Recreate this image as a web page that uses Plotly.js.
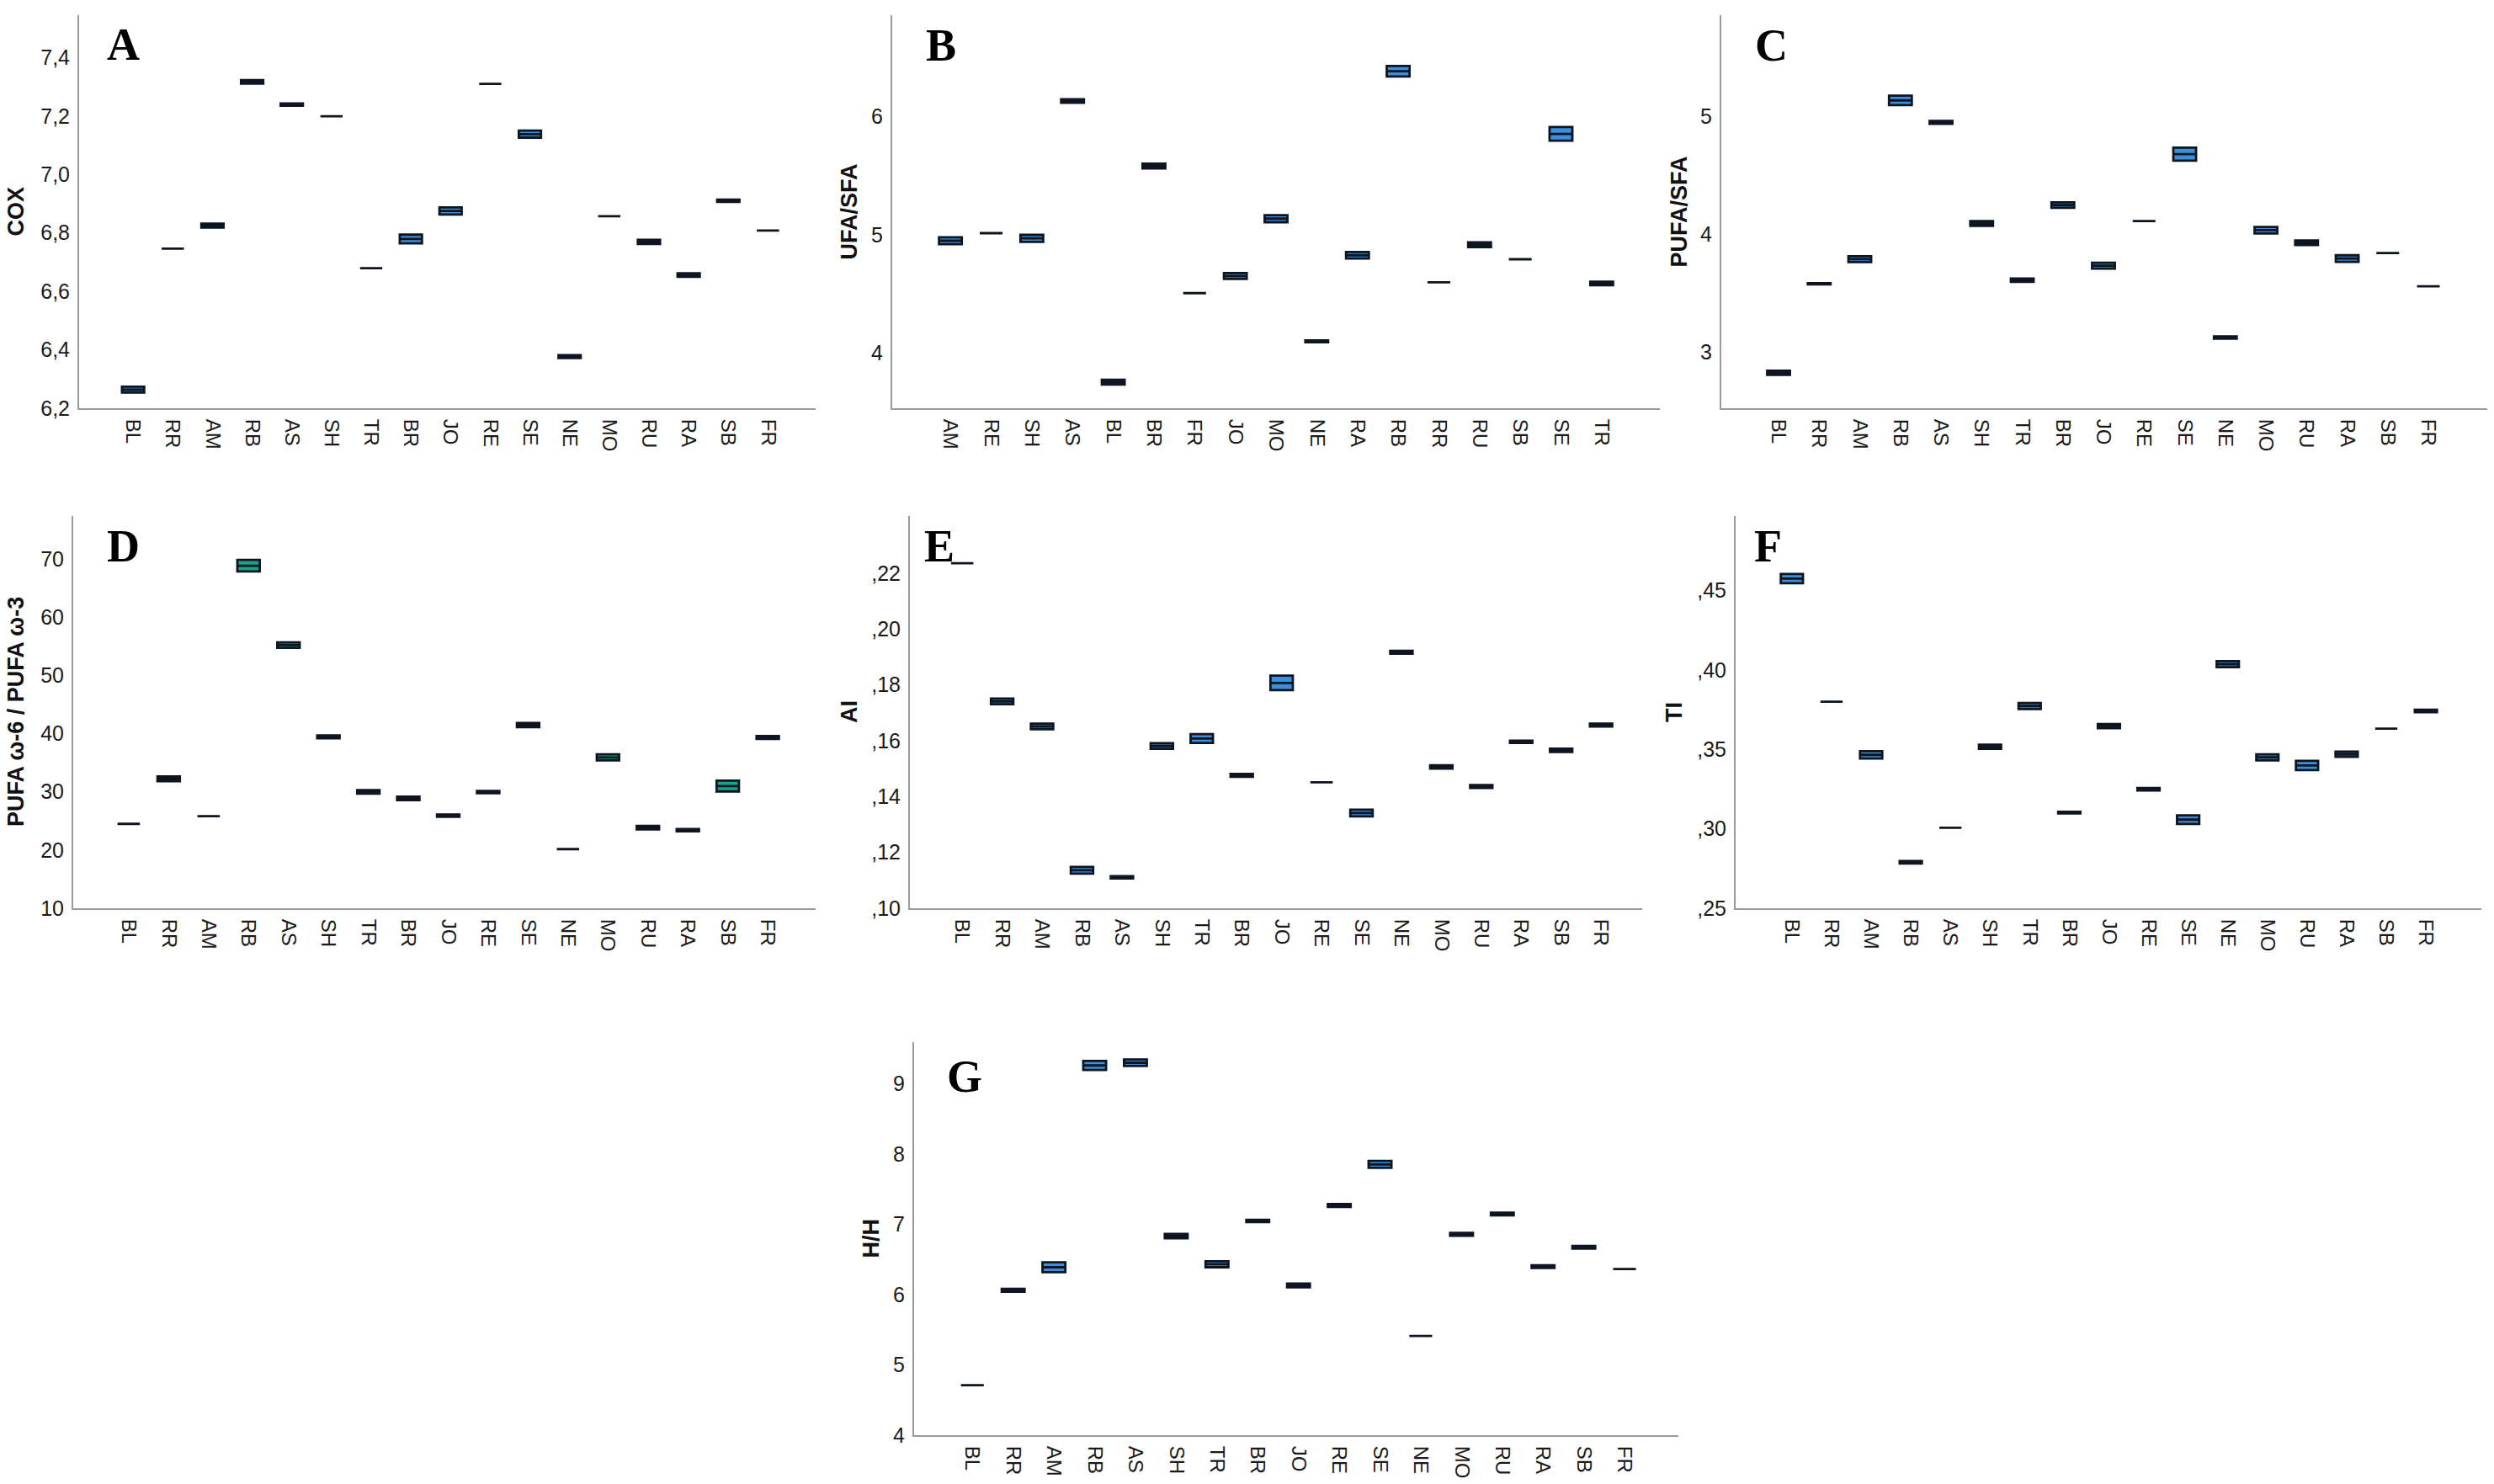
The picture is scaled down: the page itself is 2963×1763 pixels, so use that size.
<!DOCTYPE html>
<html>
<head>
<meta charset="utf-8">
<script src="https://cdn.plot.ly/plotly-3.0.1.min.js"></script>
<style>
  html, body { margin: 0; padding: 0; background: #fff; }
  #chart { width: 2963px; height: 1763px; }
</style>
</head>
<body>
<div id="chart"></div>
<script>
// categories (panel B uses alphabetical order after the first three)
var catsMain = ['BL', 'RR', 'AM', 'RB', 'AS', 'SH', 'TR', 'BR', 'JO', 'RE', 'SE', 'NE', 'MO', 'RU', 'RA', 'SB', 'FR']
var catsB = ['AM', 'RE', 'SH', 'AS', 'BL', 'BR', 'FR', 'JO', 'MO', 'NE', 'RA', 'RB', 'RR', 'RU', 'SB', 'SE', 'TR']

// medians and half box heights
var medA = [6.264, 6.746, 6.825, 7.317, 7.239, 7.199, 6.679, 6.779, 6.875, 7.310, 7.138, 6.377, 6.857, 6.769, 6.656, 6.910, 6.808]
var halfA = [0.010, 0, 0.007, 0.006, 0.004, 0, 0, 0.015, 0.012, 0, 0.012, 0.005, 0, 0.007, 0.006, 0.004, 0]

var medB = [4.949, 5.013, 4.969, 6.133, 3.751, 5.582, 4.505, 4.651, 5.136, 4.097, 4.826, 6.385, 4.597, 4.915, 4.792, 5.854, 4.587]
var halfB = [0.03, 0, 0.03, 0.015, 0.02, 0.02, 0, 0.025, 0.03, 0.008, 0.028, 0.044, 0, 0.02, 0, 0.058, 0.015]

var medC = [2.821, 3.577, 3.787, 5.136, 4.949, 4.090, 3.608, 4.246, 3.731, 4.110, 4.679, 3.121, 4.033, 3.926, 3.792, 3.838, 3.556]
var halfC = [0.018, 0.005, 0.025, 0.04, 0.012, 0.02, 0.015, 0.023, 0.025, 0, 0.056, 0.01, 0.028, 0.02, 0.028, 0, 0]

var medD = [24.5, 32.24, 25.81, 68.86, 55.22, 39.45, 30.01, 28.87, 25.91, 29.96, 41.47, 20.16, 35.92, 23.84, 23.42, 31.0, 39.35]
var halfD = [0, 0.4, 0, 1.0, 0.47, 0.25, 0.3, 0.3, 0.2, 0.2, 0.36, 0, 0.52, 0.3, 0.2, 0.93, 0.25]

var medE = [0.2236, 0.1741, 0.1651, 0.1136, 0.1111, 0.1581, 0.1608, 0.1476, 0.1807, 0.1451, 0.1341, 0.1917, 0.1506, 0.1436, 0.1596, 0.1566, 0.1656]
var halfE = [0, 0.001, 0.001, 0.0012, 0.0004, 0.001, 0.0016, 0.0005, 0.0026, 0, 0.0012, 0.0005, 0.0006, 0.0005, 0.0004, 0.0006, 0.0005]

var medF = [0.4576, 0.3801, 0.3466, 0.2790, 0.3007, 0.3517, 0.3774, 0.3102, 0.3647, 0.3249, 0.3058, 0.4037, 0.3450, 0.3399, 0.3470, 0.3631, 0.3742]
var halfF = [0.0029, 0, 0.0023, 0.0008, 0, 0.0013, 0.0019, 0.0005, 0.0013, 0.0008, 0.0027, 0.0019, 0.0019, 0.0029, 0.0017, 0, 0.0008]

var medG = [4.710, 6.061, 6.388, 9.258, 9.297, 6.831, 6.431, 7.046, 6.130, 7.266, 7.851, 5.411, 6.857, 7.145, 6.397, 6.672, 6.362]
var halfG = [0, 0.02, 0.07, 0.065, 0.047, 0.03, 0.043, 0.017, 0.026, 0.02, 0.05, 0, 0.02, 0.02, 0.02, 0.02, 0]

// tick labels
var ticksA = [6.2, 6.4, 6.6, 6.8, 7.0, 7.2, 7.4]
var labelsA = ['6,2', '6,4', '6,6', '6,8', '7,0', '7,2', '7,4']
var ticksB = [4, 5, 6]
var ticksC = [3, 4, 5]
var ticksD = [10, 20, 30, 40, 50, 60, 70]
var ticksE = [0.10, 0.12, 0.14, 0.16, 0.18, 0.20, 0.22]
var labelsE = [',10', ',12', ',14', ',16', ',18', ',20', ',22']
var ticksF = [0.25, 0.30, 0.35, 0.40, 0.45]
var labelsF = [',25', ',30', ',35', ',40', ',45']
var ticksG = [4, 5, 6, 7, 8, 9]

var W = 2963, H = 1763
var BLUE = '#3b8fdd'
var TEAL = '#1aa487'

// pixel boxes of each panel: [left, right, top, bottom], x range, y range
var panels = [
    {letter: 'A', title: 'COX', cats: catsMain, med: medA, half: halfA, tv: ticksA, tt: labelsA,
     px: [94, 969, 18, 485], xr: [-1.36, 17.2], yr: [6.2, 7.545], fill: BLUE, titleX: 19, letterXY: [146, 53]},
    {letter: 'B', title: 'UFA/SFA', cats: catsB, med: medB, half: halfB, tv: ticksB, tt: ticksB.map(String),
     px: [1060, 1972, 18, 485], xr: [-1.43, 17.43], yr: [3.53, 6.86], fill: BLUE, titleX: 1009, letterXY: [1118, 54]},
    {letter: 'C', title: 'PUFA/SFA', cats: catsMain, med: medC, half: halfC, tv: ticksC, tt: ticksC.map(String),
     px: [2045, 2955, 18, 485], xr: [-1.41, 17.45], yr: [2.52, 5.86], fill: BLUE, titleX: 1995, letterXY: [2104, 54]},
    {letter: 'D', title: 'PUFA ω-6 / PUFA ω-3', cats: catsMain, med: medD, half: halfD, tv: ticksD, tt: ticksD.map(String),
     px: [87, 969, 613, 1079], xr: [-1.39, 17.2], yr: [10, 77.4], fill: TEAL, titleX: 19, letterXY: [146, 649]},
    {letter: 'E', title: 'AI', cats: catsMain, med: medE, half: halfE, tv: ticksE, tt: labelsE,
     px: [1081, 1951, 613, 1079], xr: [-1.31, 17.03], yr: [0.10, 0.2405], fill: BLUE, titleX: 1009, letterXY: [1116, 649]},
    {letter: 'F', title: 'TI', cats: catsMain, med: medF, half: halfF, tv: ticksF, tt: labelsF,
     px: [2062, 2948, 613, 1079], xr: [-1.42, 17.4], yr: [0.25, 0.497], fill: BLUE, titleX: 1989, letterXY: [2100, 649]},
    {letter: 'G', title: 'H/H', cats: catsMain, med: medG, half: halfG, tv: ticksG, tt: ticksG.map(String),
     px: [1086, 1994, 1238, 1705], xr: [-1.43, 17.32], yr: [4.0, 9.59], fill: BLUE, titleX: 1034, letterXY: [1146, 1279]}
]

var data = []
var layout = {
    width: W,
    height: H,
    margin: {l: 0, r: 0, t: 0, b: 0},
    paper_bgcolor: '#fff',
    plot_bgcolor: '#fff',
    showlegend: false,
    boxgap: 0.2,
    font: {family: 'Liberation Sans, Arial, sans-serif', size: 24, color: '#1a1a1a'},
    annotations: []
}

panels.forEach(function (p, i) {
    var n = i === 0 ? '' : String(i + 1)
    var q1 = p.med.map(function (m, j) { return m - p.half[j] })
    var q3 = p.med.map(function (m, j) { return m + p.half[j] })

    data.push({
        type: 'box',
        x: p.cats,
        q1: q1,
        median: p.med,
        q3: q3,
        lowerfence: q1,
        upperfence: q3,
        boxpoints: false,
        fillcolor: p.fill,
        line: {color: '#0d1520', width: 2.8},
        xaxis: 'x' + n,
        yaxis: 'y' + n,
        hoverinfo: 'skip'
    })

    layout['xaxis' + n] = {
        domain: [p.px[0] / W, p.px[1] / W],
        anchor: 'y' + n,
        type: 'category',
        categoryorder: 'array',
        categoryarray: p.cats,
        range: p.xr,
        tickangle: 90,
        showgrid: false,
        zeroline: false,
        showline: true,
        linecolor: '#9a9a9a',
        linewidth: 2,
        ticks: '',
        ticklabelstandoff: 6,
        tickfont: {size: 24, color: '#1a1a1a'},
        fixedrange: true
    }
    layout['yaxis' + n] = {
        domain: [1 - p.px[3] / H, 1 - p.px[2] / H],
        anchor: 'x' + n,
        range: p.yr,
        tickvals: p.tv,
        ticktext: p.tt,
        showgrid: false,
        zeroline: false,
        showline: true,
        linecolor: '#9a9a9a',
        linewidth: 2,
        ticks: '',
        ticklabelstandoff: 4,
        tickfont: {size: 25, color: '#1a1a1a'},
        fixedrange: true
    }

    // y axis title
    layout.annotations.push({
        xref: 'paper', yref: 'paper',
        x: p.titleX / W, y: 1 - (p.px[2] + p.px[3]) / 2 / H,
        xanchor: 'center', yanchor: 'middle',
        textangle: -90,
        showarrow: false,
        text: '<b>' + p.title + '</b>',
        font: {family: 'Liberation Sans, Arial, sans-serif', size: 27, color: '#111'}
    })
    // panel letter
    layout.annotations.push({
        xref: 'paper', yref: 'paper',
        x: p.letterXY[0] / W, y: 1 - p.letterXY[1] / H,
        xanchor: 'center', yanchor: 'middle',
        showarrow: false,
        text: '<b>' + p.letter + '</b>',
        font: {family: 'Liberation Serif, Times New Roman, serif', size: 54, color: '#000'}
    })
})

Plotly.newPlot('chart', data, layout, {staticPlot: true})
</script>
</body>
</html>
